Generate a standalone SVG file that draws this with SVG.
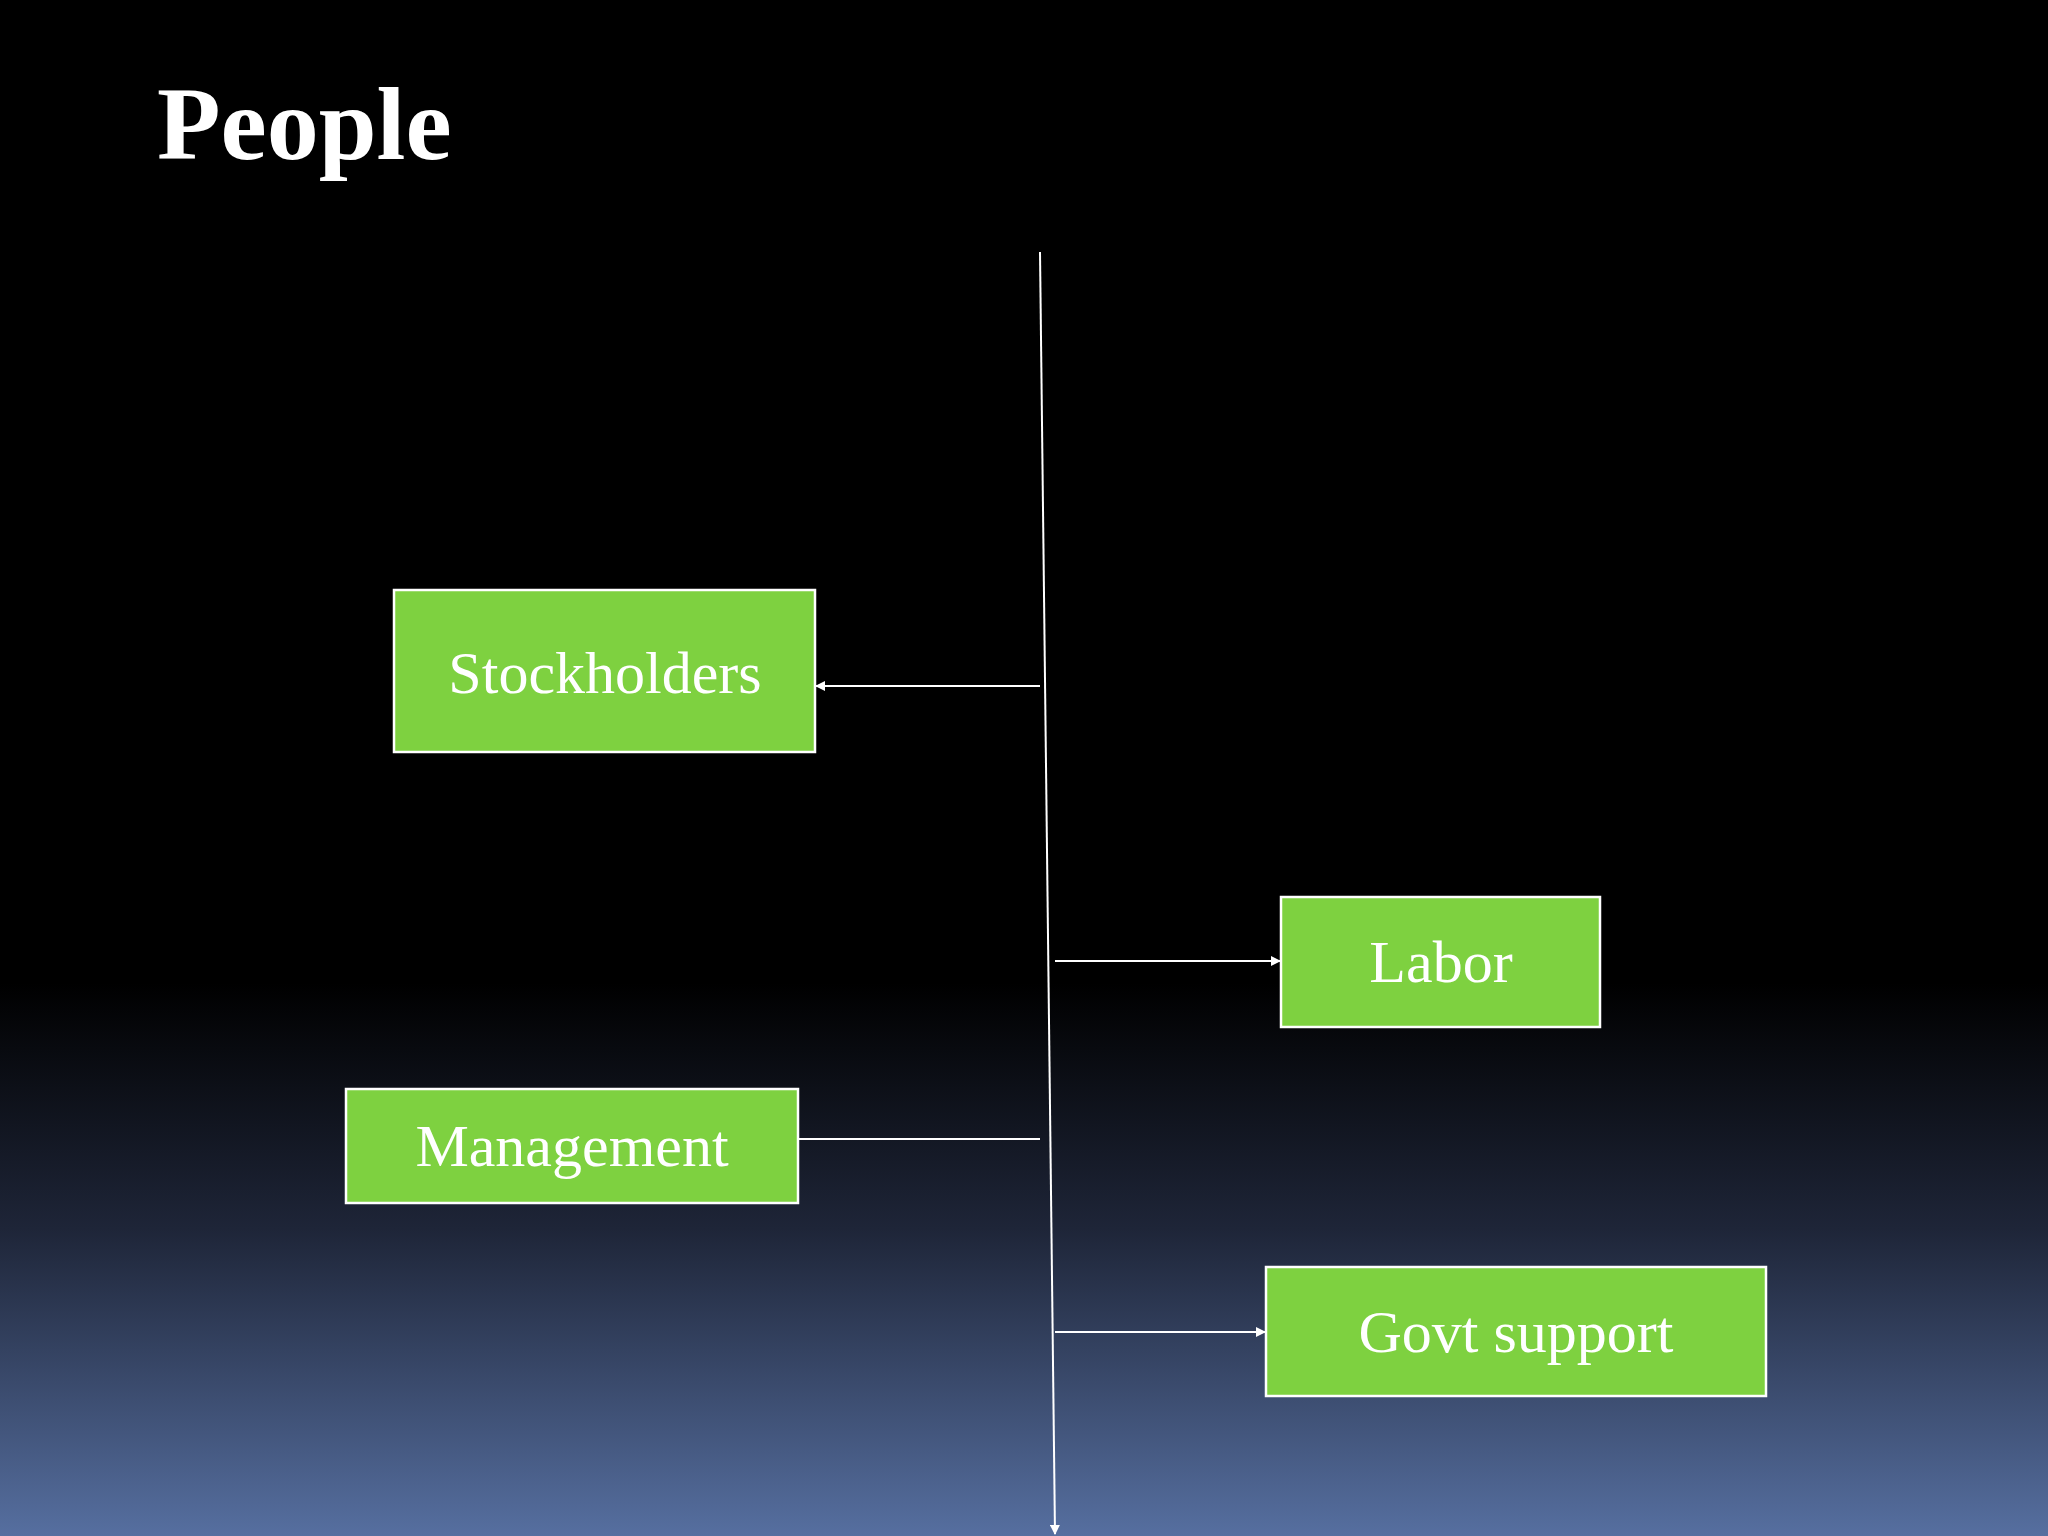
<svg xmlns="http://www.w3.org/2000/svg" width="2048" height="1536" viewBox="0 0 2048 1536">
<defs>
<linearGradient id="bg" x1="0" y1="0" x2="0" y2="1">
<stop offset="0" stop-color="#000"/>
<stop offset="0.64" stop-color="#000"/>
<stop offset="0.8" stop-color="#1e2538"/>
<stop offset="1" stop-color="#566fa0"/>
</linearGradient>
<marker id="ah" markerWidth="10" markerHeight="10" refX="9" refY="5" orient="auto" markerUnits="userSpaceOnUse" viewBox="0 0 10 10">
<path d="M0,0 L10,5 L0,10 z" fill="#fff"/>
</marker>
<style>
.box{fill:#7ed140;stroke:#fff;stroke-width:2.5}
.lbl{font-family:"Liberation Serif",serif;font-size:60px;fill:#fff;text-anchor:middle}
.c{stroke:#fff;stroke-width:2;fill:none}
</style>
</defs>
<rect width="2048" height="1536" fill="url(#bg)"/>
<text x="157" y="159" font-family="Liberation Serif,serif" font-weight="bold" font-size="104" fill="#fff">People</text>
<g id="connectors">
<line class="c" x1="1040" y1="252" x2="1055" y2="1534" marker-end="url(#ah)"/>
<line class="c" x1="1040" y1="686" x2="816" y2="686" marker-end="url(#ah)"/>
<line class="c" x1="1055" y1="961" x2="1280" y2="961" marker-end="url(#ah)"/>
<line class="c" x1="798" y1="1139" x2="1040" y2="1139"/>
<line class="c" x1="1055" y1="1332" x2="1265" y2="1332" marker-end="url(#ah)"/>
</g>
<g id="stockholders"><rect class="box" x="394" y="590" width="421" height="162"/><text class="lbl" x="605" y="693">Stockholders</text></g>
<g id="labor"><rect class="box" x="1281" y="897" width="319" height="130"/><text class="lbl" x="1441" y="982">Labor</text></g>
<g id="management"><rect class="box" x="346" y="1089" width="452" height="114"/><text class="lbl" x="572" y="1166">Management</text></g>
<g id="govt"><rect class="box" x="1266" y="1267" width="500" height="129"/><text class="lbl" x="1516" y="1352">Govt support</text></g>
</svg>
